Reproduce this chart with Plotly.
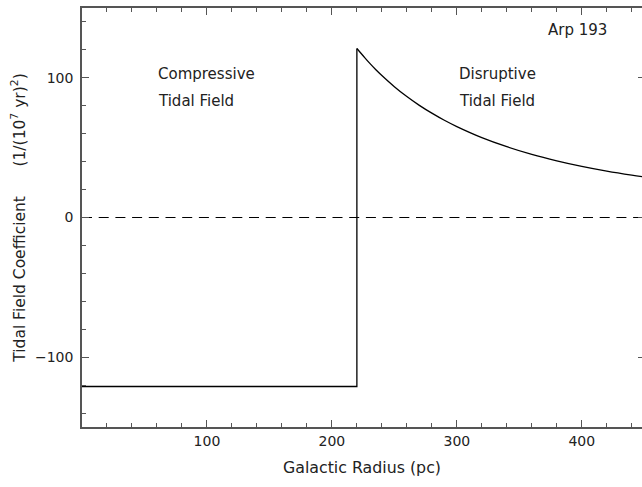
import plotly.graph_objects as go

# Data
compressive_x = [0, 220, 220]
compressive_y = [-121, -121, 121]
disruptive_x = [220, 225, 230, 235, 240, 250, 260, 270, 280, 290, 300, 320, 340, 360, 380, 400, 420, 440, 450]
disruptive_y = [121, 115.8, 110.7, 106, 101.7, 93.7, 86.6, 80.3, 74.7, 69.6, 65.1, 57.2, 50.7, 45.2, 40.6, 36.6, 33.2, 30.3, 29]
zero_x = [0, 450]
zero_y = [0, 0]
x_ticks = [100, 200, 300, 400]
y_ticks = [-100, 0, 100]

FONT = "DejaVu Sans"
AX = "#555555"
TXT = "#222222"

fig = go.Figure()
fig.add_trace(go.Scatter(x=zero_x, y=zero_y, mode="lines",
                         line=dict(color="black", width=1.2, dash="10px,6.7px"),
                         hoverinfo="skip", showlegend=False))
fig.add_trace(go.Scatter(x=compressive_x, y=compressive_y, mode="lines",
                         line=dict(color="black", width=1.3, shape="linear"),
                         showlegend=False))
fig.add_trace(go.Scatter(x=disruptive_x, y=disruptive_y, mode="lines",
                         line=dict(color="black", width=1.3, shape="spline", smoothing=1.0),
                         showlegend=False))
# invisible trace to anchor right-side ticks axis
fig.add_trace(go.Scatter(x=[0], y=[0], yaxis="y2", mode="markers",
                         marker=dict(opacity=0), hoverinfo="skip", showlegend=False))

ann_font = dict(family=FONT, size=15, color=TXT)
annotations = [
    dict(x=59, y=103, text="Compressive", xanchor="left", yanchor="middle", showarrow=False, font=ann_font),
    dict(x=59, y=83.5, text="Tidal Field", xanchor="left", yanchor="middle", showarrow=False, font=ann_font),
    dict(x=300, y=103, text="Disruptive", xanchor="left", yanchor="middle", showarrow=False, font=ann_font),
    dict(x=300, y=83.5, text="Tidal Field", xanchor="left", yanchor="middle", showarrow=False, font=ann_font),
    dict(x=371, y=134, text="Arp 193", xanchor="left", yanchor="middle", showarrow=False, font=ann_font),
]

fig.update_layout(
    width=642, height=487,
    margin=dict(l=82, r=0, t=8, b=60),
    paper_bgcolor="white", plot_bgcolor="white",
    font=dict(family=FONT, size=14, color=TXT),
    annotations=annotations,
    xaxis=dict(
        range=[0, 448.2], showgrid=False, zeroline=False,
        showline=True, linecolor=AX, linewidth=1.5, mirror="ticks",
        tickmode="array", tickvals=x_ticks, ticks="inside", ticklen=7.5,
        tickcolor=AX, tickwidth=1.2,
        minor=dict(dtick=20, tick0=0, ticks="inside", ticklen=4, tickcolor=AX, tickwidth=1.2),
        tickfont=dict(family=FONT, size=14, color=TXT),
        title=dict(text="Galactic Radius (pc)", font=dict(family=FONT, size=15.8, color=TXT), standoff=14),
    ),
    yaxis=dict(
        range=[-150, 150], showgrid=False, zeroline=False,
        showline=True, linecolor=AX, linewidth=1.5, mirror=False,
        tickmode="array", tickvals=y_ticks, ticktext=["\u2212100", "0", "100"],
        ticks="inside", ticklen=7.5, tickcolor=AX, tickwidth=1.2,
        minor=dict(dtick=20, tick0=0, ticks="inside", ticklen=4, tickcolor=AX, tickwidth=1.2),
        tickfont=dict(family=FONT, size=14, color=TXT),
        ticklabelstandoff=4,
        title=dict(text="Tidal Field Coefficient\u00a0\u00a0\u00a0\u00a0\u00a0\u00a0(1/(10<sup>7</sup> yr)<sup>2</sup>)",
                   font=dict(family=FONT, size=15.5, color=TXT), standoff=6),
    ),
    yaxis2=dict(
        range=[-150, 150], overlaying="y", side="right", anchor="x",
        showgrid=False, zeroline=False, showline=False,
        tickmode="array", tickvals=y_ticks, ticks="inside", ticklen=4,
        tickcolor=AX, tickwidth=1.2, showticklabels=False,
    ),
)

fig.write_html("out.html",
               config={"displayModeBar": False},
               post_script="document.body.style.margin='0';document.body.style.overflow='hidden';")
